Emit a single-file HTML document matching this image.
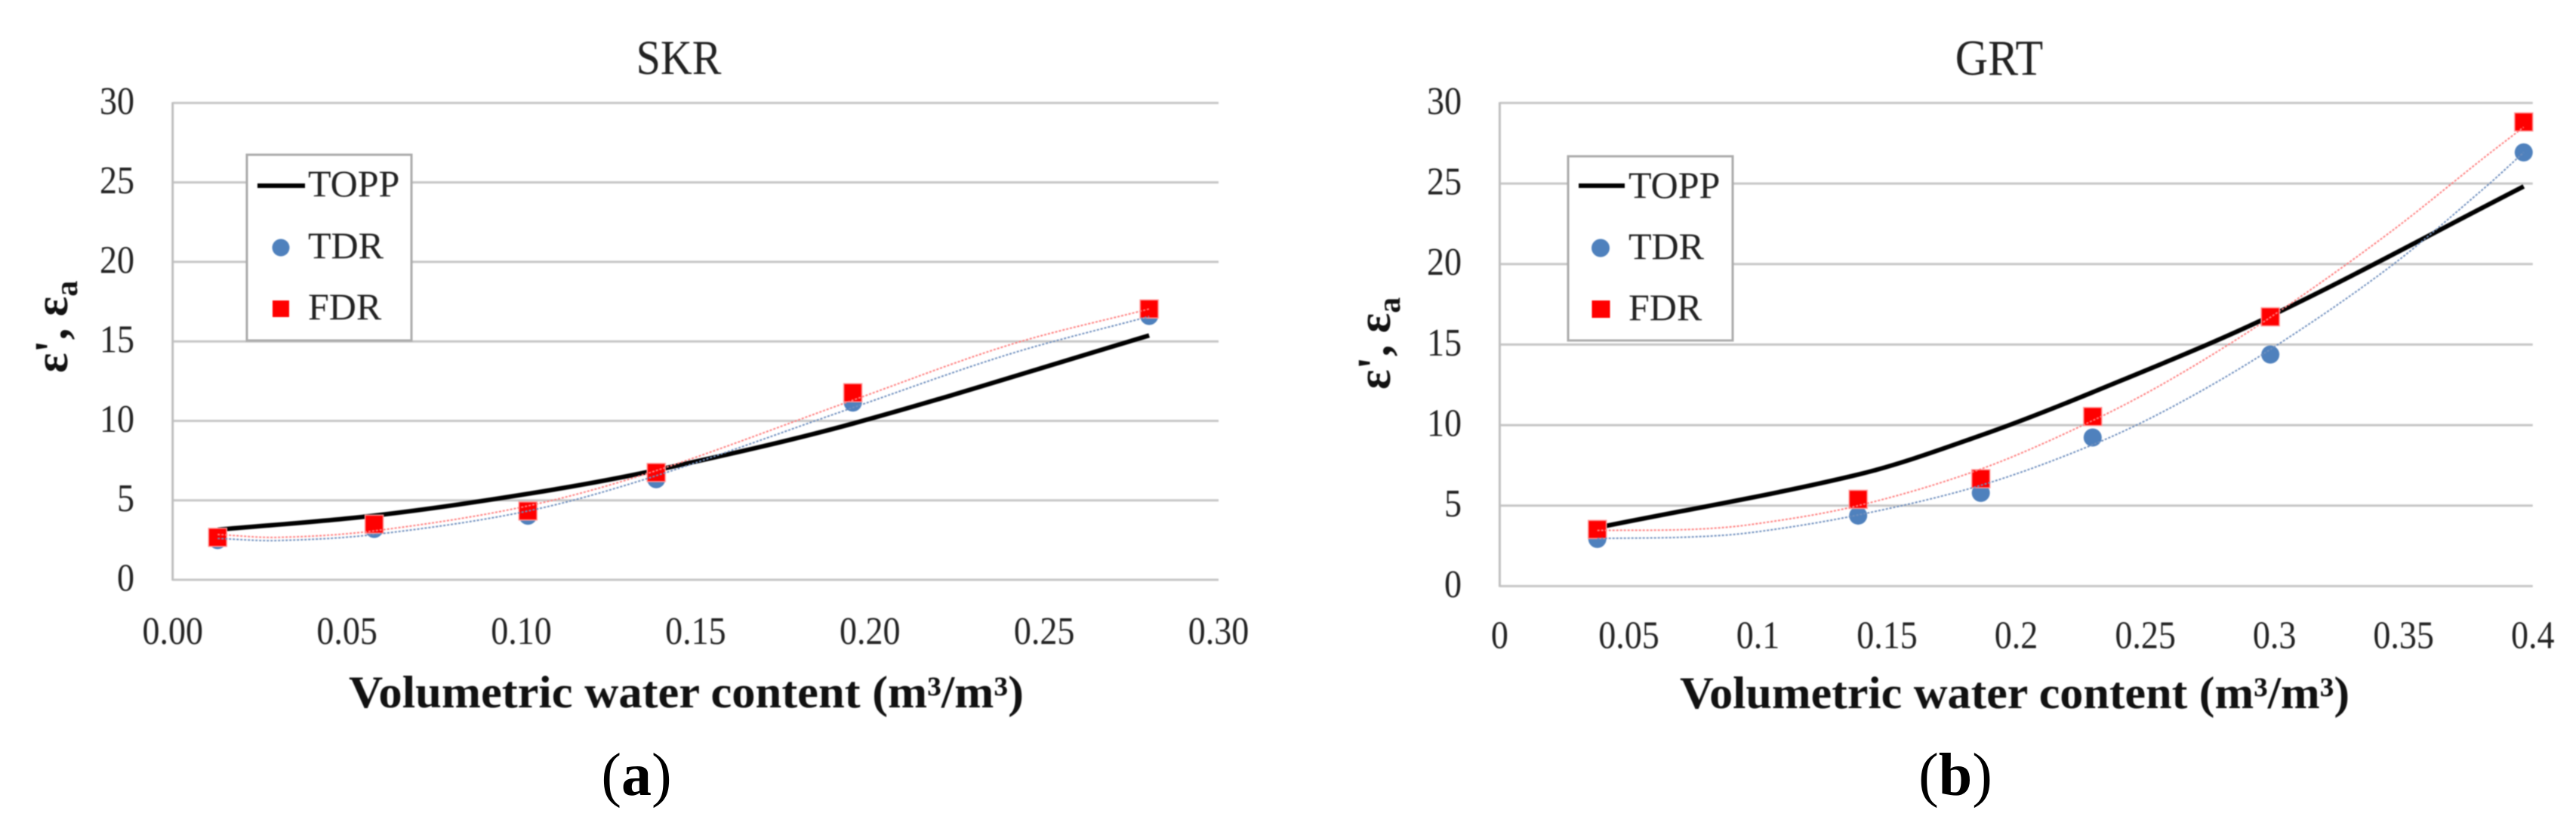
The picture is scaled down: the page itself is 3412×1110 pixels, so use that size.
<!DOCTYPE html>
<html lang="en">
<head>
<meta charset="utf-8">
<title>Dielectric permittivity vs volumetric water content</title>
<style>
  html, body { margin: 0; padding: 0; background: #ffffff; }
  body { width: 3412px; height: 1110px; overflow: hidden; }
  svg { display: block; font-family: "Liberation Serif", serif; }
  .soft { filter: blur(0.7px); }
</style>
</head>
<body>
<svg id="figure" xmlns="http://www.w3.org/2000/svg" width="3412" height="1110" viewBox="0 0 3412 1110">
  <rect x="0" y="0" width="3412" height="1110" fill="#ffffff"/>
  <g id="chart-a" class="soft"></g>
  <g id="chart-b" class="soft"></g>

  <g class="soft">
    <text transform="translate(89,494) rotate(-90)" font-size="62" font-weight="bold" fill="#111">ε', ε<tspan dy="13" font-size="42">a</tspan></text>
  </g>
  <g class="soft">
    <text transform="translate(1841,516) rotate(-90)" font-size="62" font-weight="bold" fill="#111">ε', ε<tspan dy="13" font-size="42">a</tspan></text>
  </g>

  <text class="soft" x="462" y="937" font-size="60" font-weight="bold" fill="#111" textLength="894" lengthAdjust="spacingAndGlyphs">Volumetric water content (m³/m³)</text>
  <text class="soft" x="2225" y="938" font-size="60" font-weight="bold" fill="#111" textLength="887" lengthAdjust="spacingAndGlyphs">Volumetric water content (m³/m³)</text>

  <g class="soft">
    <rect x="327" y="205" width="218" height="246" fill="#ffffff" stroke="#ababab" stroke-width="3"/>
    <line x1="341" y1="246" x2="404" y2="246" stroke="#000" stroke-width="6"/>
    <text x="408" y="260" font-size="50" fill="#222">TOPP</text>
    <circle cx="372" cy="328" r="11.5" fill="#4f81bd"/>
    <text x="408" y="342" font-size="50" fill="#222">TDR</text>
    <rect x="361" y="398" width="22" height="22" fill="#ff0000"/>
    <text x="408" y="423" font-size="50" fill="#222">FDR</text>
  </g>
  <g class="soft">
    <rect x="2077" y="207" width="218" height="244" fill="#ffffff" stroke="#ababab" stroke-width="3"/>
    <line x1="2091" y1="246" x2="2152" y2="246" stroke="#000" stroke-width="6"/>
    <text x="2157" y="262" font-size="50" fill="#222">TOPP</text>
    <circle cx="2120" cy="328.5" r="12" fill="#4f81bd"/>
    <text x="2157" y="343" font-size="50" fill="#222">TDR</text>
    <rect x="2108.5" y="398" width="24" height="23" fill="#ff0000"/>
    <text x="2157" y="424" font-size="50" fill="#222">FDR</text>
  </g>

  <text x="843" y="1053" font-size="80" text-anchor="middle" fill="#000">(<tspan font-weight="bold">a</tspan>)</text>
  <text x="2590" y="1053" font-size="80" text-anchor="middle" fill="#000">(<tspan font-weight="bold">b</tspan>)</text>
</svg>

<script>
// ---------- Panel (a) SKR data ----------
const skrTitle = "SKR";
const skrYTicks = [0, 5, 10, 15, 20, 25, 30];
const skrXTicks = [0, 0.05, 0.10, 0.15, 0.20, 0.25, 0.30];
const skrXTickLabels = ["0.00", "0.05", "0.10", "0.15", "0.20", "0.25", "0.30"];
const skrTheta = [0.0129, 0.0578, 0.1019, 0.1387, 0.1951, 0.2801];
const skrTopp = [3.15, 4.04, 5.41, 6.9, 9.83, 15.37];
const skrTdr = [2.5, 3.2, 4.03, 6.33, 11.15, 16.6];
const skrFdr = [2.67, 3.5, 4.33, 6.75, 11.77, 17.04];
const skrTrendTheta = [0.0129, 0.03, 0.0578, 0.1019, 0.1387, 0.1951, 0.24, 0.2801];
const skrTdrTrend = [2.6, 2.47, 2.85, 4.33, 6.55, 10.83, 14.2, 16.57];
const skrFdrTrend = [2.85, 2.67, 3.08, 4.65, 6.87, 11.3, 14.78, 17.04];

// ---------- Panel (b) GRT data ----------
const grtTitle = "GRT";
const grtYTicks = [0, 5, 10, 15, 20, 25, 30];
const grtXTicks = [0, 0.05, 0.1, 0.15, 0.2, 0.25, 0.3, 0.35, 0.4];
const grtXTickLabels = ["0", "0.05", "0.1", "0.15", "0.2", "0.25", "0.3", "0.35", "0.4"];
const grtTheta = [0.0378, 0.1388, 0.1863, 0.2296, 0.2984, 0.3965];
const grtTopp = [3.63, 6.93, 9.36, 12.04, 16.77, 24.82];
const grtTdr = [2.93, 4.38, 5.79, 9.23, 14.38, 26.93];
const grtFdr = [3.52, 5.39, 6.67, 10.53, 16.72, 28.82];
const grtTrendTheta = [0.0378, 0.0735, 0.0975, 0.1388, 0.1863, 0.2296, 0.2612, 0.2984, 0.3445, 0.3815, 0.3965];
const grtTdrTrend = [2.96, 3.05, 3.33, 4.42, 6.26, 8.78, 11.2, 14.7, 19.8, 24.75, 26.93];
const grtFdrTrend = [3.46, 3.52, 3.83, 5.0, 7.27, 10.28, 12.96, 16.69, 21.94, 26.65, 28.5];

const SVG_NS = "http://www.w3.org/2000/svg";

function make(tag, attrs) {
  const node = document.createElementNS(SVG_NS, tag);
  for (const key in attrs) node.setAttribute(key, attrs[key]);
  return node;
}

function smoothPath(xs, ys) {
  const last = xs.length - 1;
  const slope = i => {
    const a = Math.max(i - 1, 0), b = Math.min(i + 1, last);
    return (ys[b] - ys[a]) / (xs[b] - xs[a]);
  };
  let d = "M" + xs[0].toFixed(2) + "," + ys[0].toFixed(2);
  for (let i = 0; i < last; i++) {
    const dx = xs[i + 1] - xs[i];
    const c1x = xs[i] + dx / 3;
    const c1y = ys[i] + slope(i) * dx / 3;
    const c2x = xs[i + 1] - dx / 3;
    const c2y = ys[i + 1] - slope(i + 1) * dx / 3;
    d += " C" + c1x.toFixed(2) + "," + c1y.toFixed(2) + " " + c2x.toFixed(2) + "," + c2y.toFixed(2) + " " + xs[i + 1].toFixed(2) + "," + ys[i + 1].toFixed(2);
  }
  return d;
}

function drawChart(root, frame, title, yTicks, xTicks, xLabels, theta, topp, tdr, fdr, trendTheta, tdrTrend, fdrTrend) {
  const xScale = v => frame.left + (v / frame.xMax) * (frame.right - frame.left);
  const yScale = v => frame.bottom - (v / frame.yMax) * (frame.bottom - frame.top);

  const titleText = make("text", { transform: "translate(" + frame.titleX + "," + frame.titleY + ") scale(1,1.12)", "font-size": frame.titleSize, "text-anchor": "middle", fill: "#222" });
  titleText.textContent = title;
  
  
  root.appendChild(titleText);

  yTicks.forEach(v => {
    const grid = make("line", { x1: frame.left, x2: frame.right, y1: yScale(v), y2: yScale(v), stroke: "#c6c6c6", "stroke-width": 3 });
    
    
    root.appendChild(grid);

    const label = make("text", { transform: "translate(" + frame.yLabelRight + "," + (yScale(v) + 14.5) + ") scale(1,1.12)", "font-size": 46, "text-anchor": "end", fill: "#222" });
    label.textContent = String(v);
    
    
    root.appendChild(label);
  });

  const yAxis = make("line", { x1: frame.left, x2: frame.left, y1: frame.top - 1, y2: frame.bottom + 1, stroke: "#c0c0c0", "stroke-width": 3 });
  
  
  root.appendChild(yAxis);

  xTicks.forEach((v, i) => {
    const label = make("text", { transform: "translate(" + xScale(v) + "," + frame.xLabelY + ") scale(1,1.12)", "font-size": 46, "text-anchor": "middle", fill: "#222" });
    label.textContent = xLabels[i];
    
    
    root.appendChild(label);
  });

  const toppLine = make("path", { d: smoothPath(theta.map(xScale), topp.map(yScale)), fill: "none", stroke: "#000", "stroke-width": 6 });
  
  
  root.appendChild(toppLine);

  theta.forEach((t, i) => {
    const dot = make("circle", { cx: xScale(t), cy: yScale(tdr[i]), r: 12, fill: "#4f81bd" });
    
    
    root.appendChild(dot);
  });

  theta.forEach((t, i) => {
    const square = make("rect", { x: xScale(t) - 12, y: yScale(fdr[i]) - 12, width: 24, height: 24, fill: "#ff0000", stroke: "#ff9a9a", "stroke-width": 1.5 });
    
    
    root.appendChild(square);
  });

  const tdrCurve = make("path", { d: smoothPath(trendTheta.map(xScale), tdrTrend.map(yScale)), fill: "none", stroke: "#6f8fbe", "stroke-width": 2, "stroke-dasharray": "3 2" });
  
  
  root.appendChild(tdrCurve);

  const fdrCurve = make("path", { d: smoothPath(trendTheta.map(xScale), fdrTrend.map(yScale)), fill: "none", stroke: "#ff7f7f", "stroke-width": 2, "stroke-dasharray": "3 2" });
  
  
  root.appendChild(fdrCurve);
}

drawChart(
  document.getElementById("chart-a"),
  { left: 228.7, right: 1614, top: 136.4, bottom: 768, xMax: 0.30, yMax: 30, yLabelRight: 178, xLabelY: 853, titleX: 899, titleY: 98, titleSize: 58 },
  skrTitle, skrYTicks, skrXTicks, skrXTickLabels, skrTheta, skrTopp, skrTdr, skrFdr, skrTrendTheta, skrTdrTrend, skrFdrTrend
);

drawChart(
  document.getElementById("chart-b"),
  { left: 1986.4, right: 3354.7, top: 136.4, bottom: 776.4, xMax: 0.40, yMax: 30, yLabelRight: 1936, xLabelY: 858.6, titleX: 2648, titleY: 99, titleSize: 60 },
  grtTitle, grtYTicks, grtXTicks, grtXTickLabels, grtTheta, grtTopp, grtTdr, grtFdr, grtTrendTheta, grtTdrTrend, grtFdrTrend
);
</script>
</body>
</html>
